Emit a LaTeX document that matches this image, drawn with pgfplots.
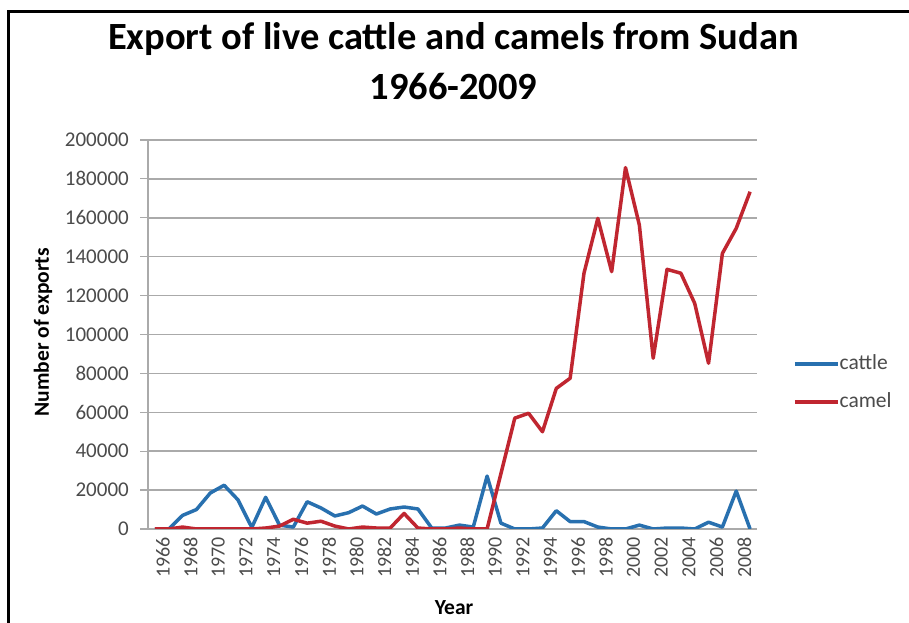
\documentclass[border=0pt]{standalone}
\usepackage{pgfplots}
\pgfplotsset{compat=1.18}
\usepackage{pgfplotstable}
\usepackage{fontspec}
\setmainfont{Carlito}
\definecolor{cattleblue}{RGB}{40,112,175}
\definecolor{camelred}{RGB}{192,38,48}
\definecolor{gridgray}{RGB}{170,170,170}
\definecolor{ticktext}{RGB}{75,75,75}

\pgfplotstableread{
year cattle camel
1966 0 0
1967 0 0
1968 7000 1000
1969 10000 0
1970 18500 0
1971 22500 0
1972 15000 0
1973 800 0
1974 16300 500
1975 2000 1500
1976 1000 5000
1977 14000 3000
1978 10800 4000
1979 6700 1500
1980 8400 0
1981 11800 1000
1982 7700 500
1983 10300 500
1984 11300 8000
1985 10300 500
1986 500 0
1987 500 0
1988 2000 500
1989 1000 0
1990 27200 0
1991 3000 28500
1992 0 57000
1993 0 59500
1994 500 50000
1995 9400 72300
1996 3800 77500
1997 3800 131500
1998 1000 159700
1999 0 132300
2000 0 185800
2001 2000 156300
2002 0 87800
2003 500 133500
2004 500 131500
2005 0 116000
2006 3500 85200
2007 1000 141700
2008 19500 154600
2009 0 173400
}\datatable

\begin{document}
\begin{tikzpicture}
\useasboundingbox (0bp,0bp) rectangle (909bp,623bp);
\fill[white] (0bp,0bp) rectangle (909bp,623bp);
\draw[line width=3bp, black] (8bp,-2bp) -- (8bp,611bp) -- (912bp,611bp);
\node[anchor=base, font=\bfseries\fontsize{38.5bp}{44bp}\selectfont] at (453.5bp,573bp) {Export of live cattle and camels from Sudan};
\node[anchor=base, font=\bfseries\fontsize{38.5bp}{44bp}\selectfont] at (453.5bp,523bp) {1966-2009};
\begin{axis}[
  at={(148bp,94bp)}, anchor=south west,
  scale only axis, width=609bp, height=389bp,
  xmin=1965.5, xmax=2009.5, ymin=0, ymax=200000,
  axis x line*=bottom, axis y line*=left,
  axis line style={gridgray, line width=1.2bp},
  xtick={1966,1968,...,2008},
  xticklabels={1966,1968,1970,1972,1974,1976,1978,1980,1982,1984,1986,1988,1990,1992,1994,1996,1998,2000,2002,2004,2006,2008},
  ytick={0,20000,40000,60000,80000,100000,120000,140000,160000,180000,200000},
  yticklabels={0,20000,40000,60000,80000,100000,120000,140000,160000,180000,200000},
  scaled y ticks=false,
  tick align=outside, major tick length=8bp,
  xtick style={draw=none},
  ytick style={gridgray, line width=1.2bp},
  ymajorgrids, grid style={gridgray, line width=1.5bp},
  yticklabel style={font=\fontsize{21bp}{24bp}\selectfont, text=ticktext, inner sep=0pt, xshift=-11bp},
  xticklabel style={font=\fontsize{20bp}{22bp}\selectfont, text=ticktext, rotate=90, anchor=east, inner sep=0pt, yshift=-8bp},
  xlabel={Year}, ylabel={Number of exports},
  xlabel style={font=\bfseries\fontsize{21.5bp}{24bp}\selectfont, at={(axis description cs:0.5025,-0.2185)}, anchor=base},
  ylabel style={font=\bfseries\fontsize{21.5bp}{24bp}\selectfont, at={(axis description cs:-0.1724,0.506)}, anchor=center},
  legend style={at={(axis description cs:1.054,0.375)}, anchor=west, draw=none, fill=none,
    font=\fontsize{21.5bp}{24bp}\selectfont, text=ticktext, row sep=18bp,
    nodes={inner sep=0pt, text height=15bp, text depth=5bp}},
  legend cell align=left,
  legend image code/.code={\draw[#1] (0bp,0bp) -- (43bp,0bp);},
  /tikz/every even column/.append style={column sep=1bp},
]
\addplot[cattleblue, line width=3.5bp, line join=round] table[x=year, y=cattle] {\datatable};
\addlegendentry{cattle}
\addplot[camelred, line width=3.5bp, line join=round] table[x=year, y=camel] {\datatable};
\addlegendentry{camel}
\end{axis}
\end{tikzpicture}
\end{document}
